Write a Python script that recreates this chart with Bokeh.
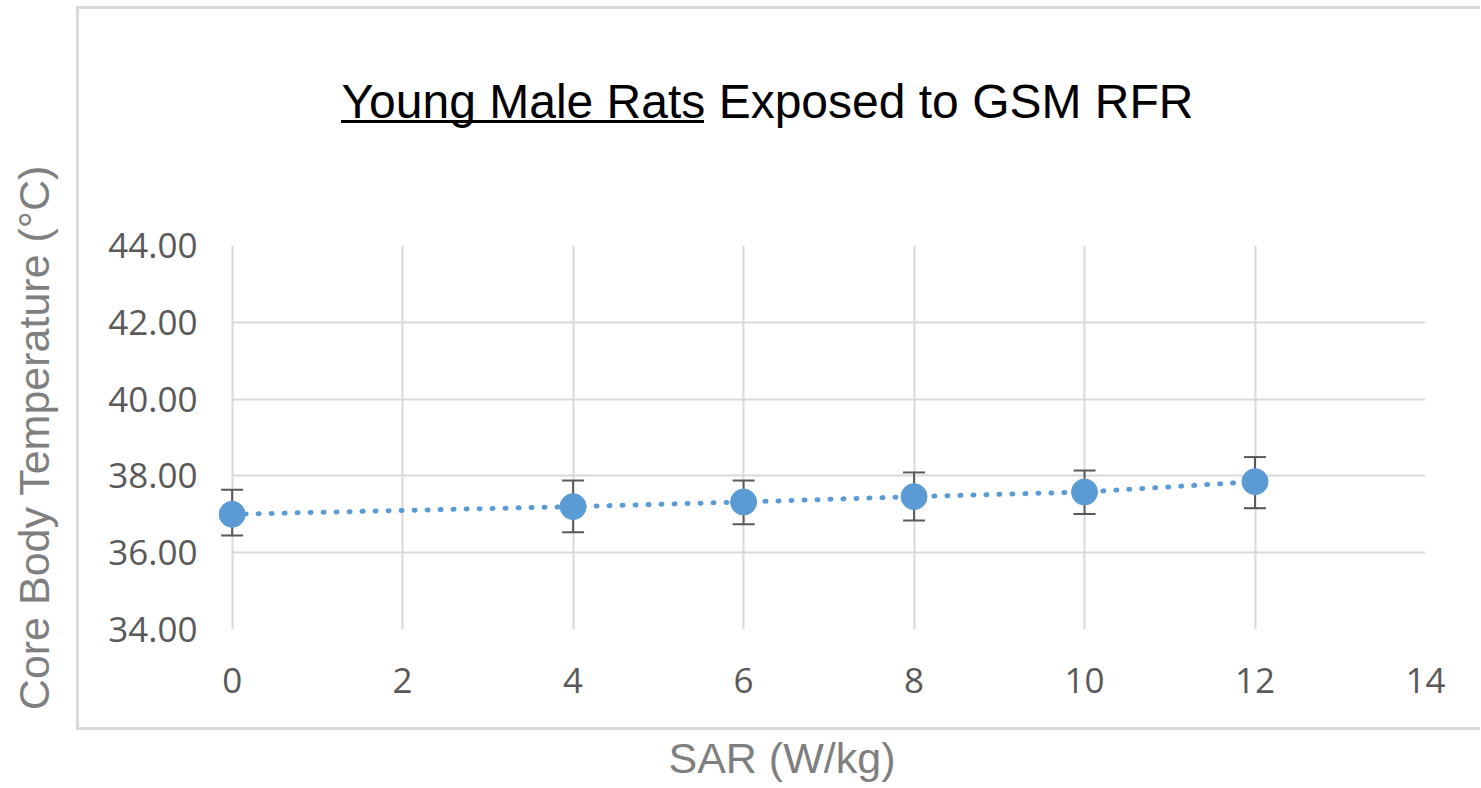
from bokeh.plotting import figure
from bokeh.models import (Range1d, FixedTicker, PrintfTickFormatter, ColumnDataSource,
                          Whisker, TeeHead, Title, LinearAxis, InlineStyleSheet)
from bokeh.embed import file_html
from bokeh.resources import INLINE

# ---- data ----
sar = [0, 4, 6, 8, 10, 12]
temp = [37.00, 37.20, 37.32, 37.46, 37.58, 37.85]
temp_lo = [36.45, 36.53, 36.74, 36.84, 37.01, 37.16]
temp_hi = [37.64, 37.88, 37.88, 38.09, 38.14, 38.49]
x_ticks = [0, 2, 4, 6, 8, 10, 12, 14]
y_ticks = [34, 36, 38, 40, 42, 44]

title_text = "Young Male Rats Exposed to GSM RFR"
x_label = "SAR (W/kg)"
y_label = "Core Body Temperature (°C)"

BLUE = "#5B9BD5"
GRID = "#d9d9d9"
TICK = "#595959"
LABEL = "#7f7f7f"

W, H = 1480, 787
X_PAD = 0.16  # small left padding so the first marker is not cut by the frame

p = figure(width=W, height=H, output_backend="svg", toolbar_location=None,
           x_range=Range1d(x_ticks[0] - X_PAD, x_ticks[-1]),
           y_range=Range1d(y_ticks[0], y_ticks[-1]),
           min_border_left=218, min_border_right=W - 1425,
           min_border_top=245, min_border_bottom=H - 629)
p.outline_line_color = None
p.background_fill_color = "white"
p.border_fill_color = "white"

# grids
p.xgrid.ticker = FixedTicker(ticks=x_ticks)
p.ygrid.ticker = FixedTicker(ticks=y_ticks)
for g in (p.xgrid, p.ygrid):
    g.grid_line_color = GRID
    g.grid_line_width = 2
yg = p.ygrid[0]
if "cross_bounds" in yg.properties():
    yg.cross_bounds = (x_ticks[0], x_ticks[-1])

# axes
p.xaxis.ticker = FixedTicker(ticks=x_ticks)
p.yaxis.ticker = FixedTicker(ticks=y_ticks)
p.yaxis.formatter = PrintfTickFormatter(format="%.2f")
for ax in (p.xaxis, p.yaxis):
    ax.axis_line_color = None
    ax.major_tick_line_color = None
    ax.minor_tick_line_color = None
    ax.major_tick_out = 0
    ax.major_tick_in = 0
    ax.major_label_text_font = "Open Sans"
    ax.major_label_text_font_size = "35px"
    ax.major_label_text_color = TICK
p.xaxis.major_label_standoff = 38
p.yaxis.major_label_standoff = 21

p.yaxis.axis_label = y_label
p.yaxis.axis_label_text_font = "Liberation Sans"
p.yaxis.axis_label_text_font_size = "43px"
p.yaxis.axis_label_text_font_style = "normal"
p.yaxis.axis_label_text_color = LABEL
p.yaxis.axis_label_standoff = 47

EDGE = [x_ticks[-1]]


def spacer(n):
    # an axis with one invisible tick, used only to reserve n pixels in a side panel
    return LinearAxis(ticker=FixedTicker(ticks=EDGE), axis_line_color=None,
                      major_tick_line_color="white", major_tick_line_width=1,
                      minor_tick_line_color=None,
                      major_tick_out=n, major_tick_in=0, major_label_standoff=0,
                      major_label_overrides={EDGE[0]: ""}, major_label_text_font_size="0px")


src = ColumnDataSource(dict(x=sar, y=temp, lo=temp_lo, hi=temp_hi))

# error bars
wh = Whisker(source=src, base="x", upper="hi", lower="lo",
             line_color=TICK, line_width=2, level="underlay",
             upper_head=TeeHead(size=22, line_color=TICK, line_width=2),
             lower_head=TeeHead(size=22, line_color=TICK, line_width=2))
p.add_layout(wh)

# dotted series line and markers
p.line("x", "y", source=src, line_color=BLUE, line_width=5, line_dash="1 12",
       line_cap="round")
p.scatter("x", "y", source=src, size=26, fill_color=BLUE, line_color=BLUE)

# title (spacer between frame and title, then the title)
p.add_layout(spacer(118), "above")
p.add_layout(Title(text=title_text, align="left", offset=341 - 218, standoff=0,
                   vertical_align="bottom", text_font="Liberation Sans",
                   text_font_size="48px", text_font_style="normal", text_color="black"),
             "above")

# x-axis title below the chart-area border
p.add_layout(spacer(38), "below")
p.add_layout(Title(text=x_label, align="left", offset=668 - 218, standoff=0,
                   vertical_align="top", text_font="Liberation Sans",
                   text_font_size="43px", text_font_style="normal", text_color=LABEL),
             "below")

# chart-area border and title underline (decoration)
p.stylesheets = [InlineStyleSheet(css="""
:host::before { content: ""; position: absolute; left: 76px; top: 6px; width: 1404px;
  height: 724px; box-sizing: border-box; border: 3px solid #d9d9d9; border-right: none;
  pointer-events: none; z-index: 3; }
:host::after { content: ""; position: absolute; left: 341px; top: 120px; width: 363px;
  height: 3px; background: #000; pointer-events: none; z-index: 3; }
""")]

open("out.html", "w").write(file_html(p, INLINE))
